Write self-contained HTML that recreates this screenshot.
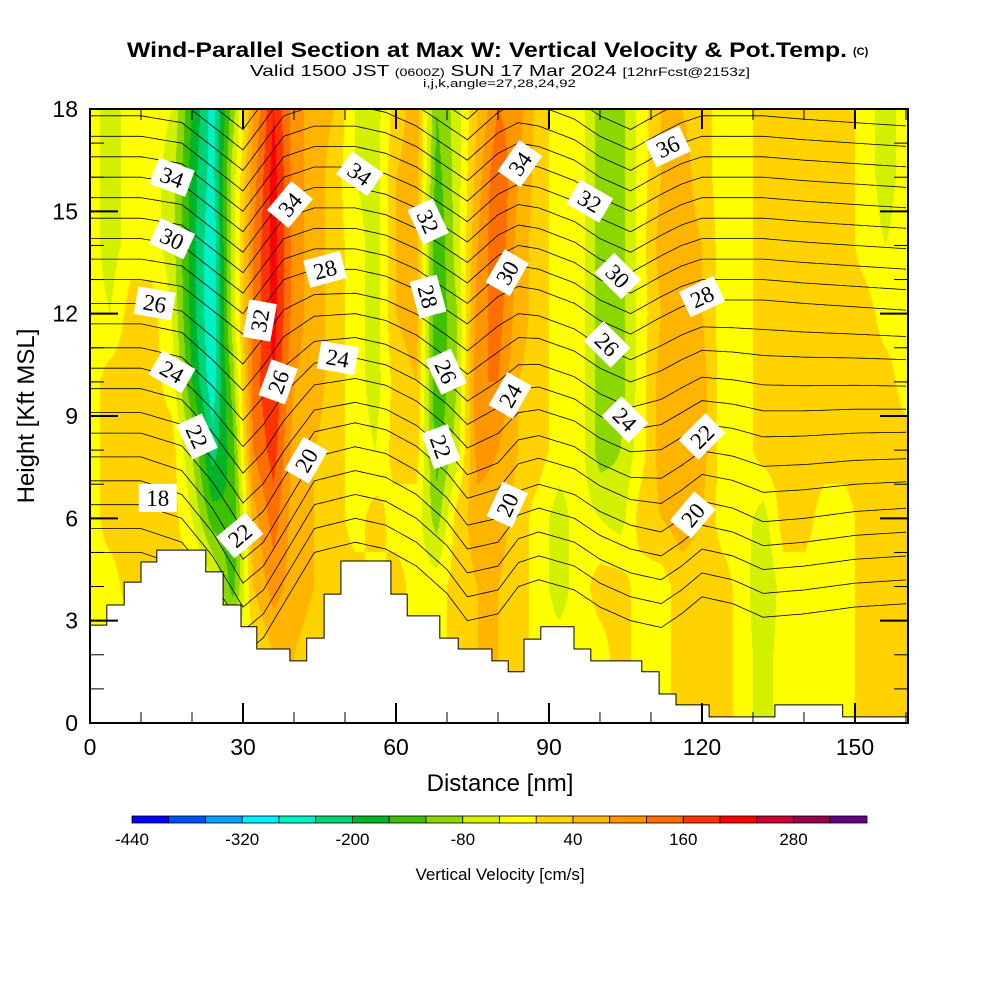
<!DOCTYPE html>
<html><head><meta charset="utf-8">
<style>
html,body{margin:0;padding:0;background:#fff;}
#wrap{position:relative;width:1000px;height:1000px;overflow:hidden;font-family:"Liberation Sans",sans-serif;}
#field{position:absolute;left:90px;top:109px;}
#svg{position:absolute;left:0;top:0;}
</style></head>
<body>
<div id="wrap">
<canvas id="field" width="818" height="614"></canvas>
<svg id="svg" width="1000" height="1000" xmlns="http://www.w3.org/2000/svg">
<g id="contours"></g>
<g id="terrain"></g>
<g id="clabels"></g>
<rect x="90" y="109" width="818" height="614" fill="none" stroke="#000" stroke-width="2"/>
<g id="ticks"></g>
<g id="cbar"></g>
<text x="127" y="57" font-size="21" font-weight="bold" textLength="720" lengthAdjust="spacingAndGlyphs">Wind-Parallel Section at Max W: Vertical Velocity &amp; Pot.Temp.</text>
<text x="853" y="55" font-size="11" font-weight="bold">(C)</text>
<text x="250" y="76" font-size="16" textLength="500" lengthAdjust="spacingAndGlyphs">Valid 1500 JST <tspan font-size="11">(0600Z)</tspan> SUN 17 Mar 2024 <tspan font-size="12">[12hrFcst@2153z]</tspan></text>
<text x="423" y="87" font-size="11" textLength="153" lengthAdjust="spacingAndGlyphs">i,j,k,angle=27,28,24,92</text>
<text x="500" y="791" font-size="24" text-anchor="middle">Distance [nm]</text>
<text x="0" y="0" font-size="24" text-anchor="middle" transform="translate(34,416) rotate(-90)">Height [Kft MSL]</text>
<text x="500" y="880" font-size="17" text-anchor="middle">Vertical Velocity [cm/s]</text>
</svg>
</div>
<script>
// ---------- data ----------
const xMax = 160.4, yMax = 18;
const gridX = [0,4,8,12,16,20,24,28,32,36,40,44,48,52,56,60,64,68,72,76,80,84,88,92,96,100,104,108,112,116,120,124,128,132,136,140,144,148,152,156,160];
const gridY = [0,2,4,6,8,10,12,14,16,18];
const w0  = [-20,-20,-20,-20,-20,-20,-20,-20,-20,40,40,20,20,-20,-20,20,-20,-20,20,40,40,20,-20,-20,-20,-20,20,-20,-20,20,20,20,-20,-60,-20,-20,-20,-20,20,20,20];
const w2  = [-20,-20,-20,-20,-20,-20,-20,-20,-20,40,40,20,20,-20,-20,20,-20,-20,20,40,40,20,-20,-20,-20,-20,20,-20,-20,20,20,20,-20,-60,-20,-20,-20,-20,20,20,20];
const w4  = [-20,-20,20,20,20,20,-20,-140,40,100,60,40,20,20,-20,20,-20,-20,20,40,40,20,-20,-60,-20,20,20,-20,-20,20,20,20,-20,-80,-20,-20,-20,-20,20,20,20];
const w6  = [-20,20,20,20,20,-40,-140,-160,60,140,60,40,20,-20,20,-20,-20,-100,20,60,60,20,-20,-60,-20,-40,-60,20,40,60,40,-20,-20,-60,20,20,-20,-20,20,20,20];
const w8  = [-20,20,20,20,20,-80,-220,-140,120,180,60,40,20,-20,-40,20,20,-140,-60,100,80,40,20,-20,-20,-100,-80,-20,60,80,60,-20,-20,20,20,20,20,20,20,20,20];
const w10 = [-20,20,20,20,-20,-160,-270,-100,140,200,80,60,20,-20,-60,20,40,-160,-80,120,120,40,20,-20,-20,-100,-100,-20,60,80,60,-20,-20,20,20,20,20,20,20,20,-20];
const w12 = [-20,-40,20,20,-40,-180,-280,-60,120,220,100,60,20,-20,-60,40,60,-160,-80,100,140,60,20,-20,-20,-100,-100,-20,40,80,40,-20,-20,20,20,20,20,20,20,-20,-20];
const w14 = [-20,-60,-20,-20,-60,-180,-280,-60,120,220,100,60,20,-20,-60,40,60,-160,-60,80,160,60,20,-20,-20,-100,-100,-20,60,60,40,-20,-20,20,20,20,20,20,-20,-40,-20];
const w16 = [-20,-60,-20,-20,-60,-180,-260,-60,100,220,100,60,20,-40,-60,40,60,-140,-60,60,160,80,20,-20,-20,-100,-100,-20,40,60,20,-20,-20,20,20,20,20,20,-20,-60,-20];
const w18 = [-20,-60,-20,-20,-40,-160,-260,-100,80,200,100,60,40,-40,-60,20,60,-120,-60,40,120,100,20,-20,-20,-100,-100,-20,40,40,20,-20,-20,20,20,20,20,20,-20,-60,-20];
const wRows = [w0,w2,w4,w6,w8,w10,w12,w14,w16,w18];
const cbarColors = ["#0000ff","#0050ff","#00a0ff","#00f0ff","#00f0c8","#00d278","#00b428","#3cc000","#8cd700","#d2f000","#ffff00","#ffd200","#ffb400","#ff9600","#ff6e00","#ff3200","#ff0000","#c80032","#960050","#640082"];
const cbarMin = -440, cbarStep = 40;
const cbarTicks = [-440,-320,-200,-80,40,160,280];
const terrainEdges = [0,3.3,6.7,10,13.1,22.7,26.1,29.6,32.7,39.2,42.5,45.9,49.2,59,62.2,68.6,72.2,78.8,82,85.1,88.4,94.9,98.2,108.2,111.6,114.9,121.4,134.3,147.6,160.8];
const terrainHeights = [2.87,3.46,4.13,4.72,5.07,4.43,3.46,2.82,2.17,1.82,2.49,3.78,4.75,3.78,3.14,2.49,2.17,1.82,1.5,2.46,2.82,2.17,1.82,1.5,0.85,0.53,0.18,0.53,0.18];
const thetaLevels = [16,17,18,19,20,21,22,23,24,25,26,27,28,29,30,31,32,33,34,35,36,37,38];
const thetaBase   = [5.0,5.7,6.4,7.1,7.8,8.5,9.1,9.8,10.4,11.0,11.7,12.3,13.0,13.6,14.2,14.8,15.4,16.0,16.6,17.2,17.8,18.4,19.0];
const dispX   = [0,10,18,24,30,34,38,44,52,58,64,70,74,80,84,88,95,100,106,112,116,120,126,132,140,150,160.4];
const dispUp  = [0,0,-0.2,-0.9,-1.6,-0.8,0.0,0.3,0.3,0.1,-0.3,-0.9,-1.3,-0.5,-0.2,-0.3,-0.7,-1.2,-1.6,-1.1,-0.8,-0.6,-0.6,-0.6,-0.7,-0.8,-0.9];
const dispLow = [0,0,-0.4,-1.5,-3.0,-2.5,-1.5,0.0,0.3,0.1,-0.4,-1.2,-2.0,-1.8,-1.0,-0.8,-1.1,-1.6,-2.0,-2.2,-1.8,-1.3,-1.5,-1.9,-1.8,-1.6,-1.5];
const labelText = ["34","30","26","24","22","18","22","34","32","26","20","28","24","34","32","28","26","22","30","34","24","20","32","30","26","24","36","28","22","20"];
const labelX = [16.1,16.1,12.7,16.1,21.0,13.3,29.4,39.2,33.3,36.9,42.4,46.1,48.6,52.9,66.3,66.3,69.8,68.8,81.8,84.3,82.4,81.8,98.0,103.5,101.4,104.9,113.3,120.0,120.0,118.2];
const labelY = [16.0,14.2,12.3,10.3,8.4,6.6,5.5,15.2,11.8,10.0,7.7,13.3,10.7,16.1,14.7,12.5,10.3,8.1,13.2,16.4,9.6,6.4,15.3,13.1,11.1,8.9,16.9,12.5,8.4,6.1];
const labelAngle = [20,25,10,30,65,0,-40,-50,-80,-70,-60,-15,10,35,65,75,65,70,-60,-55,-60,-65,30,45,45,45,-25,-25,-45,-50];
const xTicks = [0,30,60,90,120,150];
const yTicks = [0,3,6,9,12,15,18];

// ---------- scales ----------
const PL=90, PT=109, PW=818, PH=614;
const sx = x => PL + x/xMax*PW;
const sy = y => PT + PH - y/yMax*PH;
const NS="http://www.w3.org/2000/svg";
function mk(tag, attrs, parent){const e=document.createElementNS(NS,tag);for(const k in attrs)e.setAttribute(k,attrs[k]);parent.appendChild(e);return e;}
function interp1(xs, ys, x){
  if(x<=xs[0])return ys[0];
  for(let i=1;i<xs.length;i++){if(x<=xs[i]){const t=(x-xs[i-1])/(xs[i]-xs[i-1]);return ys[i-1]+t*(ys[i]-ys[i-1]);}}
  return ys[ys.length-1];
}
function hex(c){return [parseInt(c.substr(1,2),16),parseInt(c.substr(3,2),16),parseInt(c.substr(5,2),16)];}
const rgb = cbarColors.map(hex);

// ---------- field ----------
(function(){
  const cv=document.getElementById('field');const ctx=cv.getContext('2d');
  const img=ctx.createImageData(PW,PH);
  const gx=gridX.length, gy=gridY.length, dx=gridX[1]-gridX[0], dy=gridY[1]-gridY[0];
  for(let py=0;py<PH;py++){
    const y=(PH-py-0.5)/PH*yMax;
    let j=Math.min(Math.floor(y/dy),gy-2);const ty=(y-gridY[j])/dy;
    for(let px=0;px<PW;px++){
      const x=(px+0.5)/PW*xMax;
      let i=Math.min(Math.floor(x/dx),gx-2);let tx=(x-gridX[i])/dx; if(tx>1)tx=1;
      const a=wRows[j][i],b=wRows[j][i+1],c=wRows[j+1][i],d=wRows[j+1][i+1];
      const v=(a*(1-tx)+b*tx)*(1-ty)+(c*(1-tx)+d*tx)*ty;
      let k=Math.floor((v-cbarMin)/cbarStep);k=Math.max(0,Math.min(rgb.length-1,k));
      const o=(py*PW+px)*4;img.data[o]=rgb[k][0];img.data[o+1]=rgb[k][1];img.data[o+2]=rgb[k][2];img.data[o+3]=255;
    }
  }
  ctx.putImageData(img,0,0);
})();

// ---------- contours ----------
(function(){
  const svg=document.getElementById('svg');
  const defs=mk('defs',{},svg);
  const cp=mk('clipPath',{id:'plotclip'},defs);
  mk('rect',{x:PL,y:PT,width:PW,height:PH},cp);
  const g=document.getElementById('contours');g.setAttribute('clip-path','url(#plotclip)');
  thetaLevels.forEach((th,li)=>{
    const w=Math.max(0,Math.min(1,(th-20)/8));
    let d='';
    for(let x=0;x<=xMax+0.01;x+=0.5){
      const disp=interp1(dispX,dispLow,x)*(1-w)+interp1(dispX,dispUp,x)*w;
      const y=thetaBase[li]+disp;
      d+=(x===0?'M':'L')+sx(x).toFixed(1)+','+sy(y).toFixed(1);
    }
    const p=mk('path',{d:d,fill:'none',stroke:'#000','stroke-width':'0.8'},g);
    
    
  });
  // terrain
  const tg=document.getElementById('terrain');
  let d='M'+sx(terrainEdges[0])+','+sy(0);
  terrainHeights.forEach((h,i)=>{d+='L'+sx(terrainEdges[i]).toFixed(1)+','+sy(h).toFixed(1)+'L'+Math.min(sx(terrainEdges[i+1]),PL+PW).toFixed(1)+','+sy(h).toFixed(1);});
  d+='L'+(PL+PW)+','+sy(0)+'Z';
  const tp=mk('path',{d:d,fill:'#fff',stroke:'#000','stroke-width':'1'},tg);
  
  
  // labels
  const lg=document.getElementById('clabels');
  labelText.forEach((t,i)=>{
    const gg=mk('g',{transform:'translate('+sx(labelX[i]).toFixed(1)+','+sy(labelY[i]).toFixed(1)+') rotate('+labelAngle[i]+')'},lg);
    
    
    mk('rect',{x:-19,y:-14,width:38,height:28,fill:'#fff'},gg);
    const tx=mk('text',{x:0,y:8,'text-anchor':'middle','font-size':'23','font-family':'"Liberation Serif",serif'},gg);
    tx.textContent=t;
  });
  // ticks
  const tk=document.getElementById('ticks');
  for(let x=0;x<=xMax;x+=10){
    const major=(x%30===0);const L=major?20:11;
    mk('line',{x1:sx(x),x2:sx(x),y1:PT+PH,y2:PT+PH-L,stroke:'#000','stroke-width':major?2:1},tk);
    mk('line',{x1:sx(x),x2:sx(x),y1:PT,y2:PT+L,stroke:'#000','stroke-width':major?2:1},tk);
  }
  for(let y=0;y<=yMax;y+=1){
    const major=(y%3===0);const L=major?28:14;
    mk('line',{x1:PL,x2:PL+L,y1:sy(y),y2:sy(y),stroke:'#000','stroke-width':major?2:1},tk);
    mk('line',{x1:PL+PW,x2:PL+PW-L,y1:sy(y),y2:sy(y),stroke:'#000','stroke-width':major?2:1},tk);
  }
  xTicks.forEach(v=>{
    const t=mk('text',{x:sx(v),y:755,'text-anchor':'middle','font-size':'23'},tk);
    
    
    t.textContent=v;
  });
  yTicks.forEach(v=>{
    const t=mk('text',{x:78,y:sy(v)+8,'text-anchor':'end','font-size':'23'},tk);
    
    
    t.textContent=v;
  });
  // colorbar
  const cb=document.getElementById('cbar');
  const cx0=132, cw=735/cbarColors.length;
  const cbx = v => cx0+(v-cbarMin)/cbarStep*cw;
  cbarColors.forEach((c,i)=>{
    const r=mk('rect',{x:cbx(cbarMin+i*cbarStep),y:816,width:cw,height:7,fill:c,stroke:'#000','stroke-width':'0.8'},cb);
    
    
  });
  cbarTicks.forEach(v=>{
    const t=mk('text',{x:cbx(v),y:845,'text-anchor':'middle','font-size':'17'},cb);
    
    
    t.textContent=v;
  });
})();
</script>
</body></html>
